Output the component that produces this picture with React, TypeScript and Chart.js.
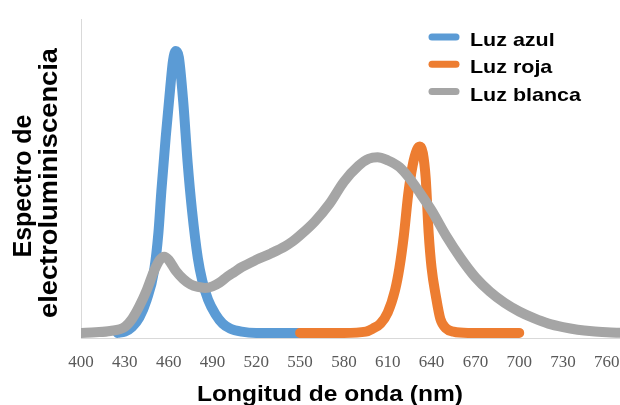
import React, { useEffect, useRef } from "react";
import { Chart, registerables } from "chart.js";

Chart.register(...registerables);

// ---- data ----
const xTickValues = [400, 430, 460, 490, 520, 550, 580, 610, 640, 670, 700, 730, 760];
const seriesLabels = ["Luz azul", "Luz roja", "Luz blanca"];
const seriesColors = ["#5B9BD5", "#ED7D31", "#A5A5A5"];

const blueNm = [425, 430, 435, 440, 445, 450, 453, 455, 458, 461, 463, 465, 467, 470, 473, 476, 480, 483, 487, 492, 497, 502, 510, 520, 535, 550];
const blueVal = [0.016, 0.02, 0.035, 0.065, 0.12, 0.21, 0.33, 0.46, 0.63, 0.78, 0.87, 0.9, 0.88, 0.74, 0.55, 0.4, 0.25, 0.18, 0.12, 0.075, 0.045, 0.03, 0.02, 0.016, 0.016, 0.016];

const redNm = [550, 580, 595, 600, 605, 610, 615, 618, 621, 624, 627, 630, 632, 634, 636, 638, 640, 643, 646, 650, 655, 665, 700];
const redVal = [0.016, 0.016, 0.02, 0.03, 0.045, 0.08, 0.15, 0.22, 0.32, 0.45, 0.54, 0.59, 0.6, 0.58, 0.5, 0.33, 0.22, 0.13, 0.06, 0.03, 0.02, 0.016, 0.016];

const whiteNm = [400, 410, 420, 430, 435, 440, 445, 450, 454, 457, 460, 465, 470, 475, 480, 485, 490, 495, 500, 505, 510, 520, 530, 540, 545, 550, 560, 570, 580, 590, 597, 603, 610, 618, 625, 632, 640, 650, 660, 670, 680, 690, 700, 710, 720, 730, 740, 750, 760, 770];
const whiteVal = [0.016, 0.018, 0.022, 0.035, 0.06, 0.1, 0.15, 0.21, 0.245, 0.255, 0.245, 0.21, 0.185, 0.168, 0.16, 0.157, 0.162, 0.174, 0.192, 0.207, 0.222, 0.245, 0.265, 0.288, 0.303, 0.322, 0.365, 0.42, 0.49, 0.54, 0.562, 0.567, 0.557, 0.536, 0.5, 0.455, 0.4, 0.32, 0.25, 0.19, 0.145, 0.11, 0.083, 0.062, 0.045, 0.034, 0.026, 0.021, 0.018, 0.016];

const xTitle = "Longitud de onda (nm)";
const yTitleLines = ["Espectro de", "electroluminiscencia"];

const SANS = '"Liberation Sans", Arial, Helvetica, sans-serif';

export default function App() {
  const ref = useRef<HTMLCanvasElement>(null);

  useEffect(() => {
    if (!ref.current) return;
    const toPts = (xs: number[], ys: number[]) => xs.map((x, i) => ({ x, y: ys[i] }));

    const textPlugin = {
      id: "texts",
      afterDraw(chart: any) {
        const ctx = chart.ctx as CanvasRenderingContext2D;
        ctx.save();
        ctx.fillStyle = "#000";
        ctx.textBaseline = "alphabetic";

        // x-axis title
        ctx.font = `bold 22px ${SANS}`;
        ctx.textAlign = "left";
        const w = ctx.measureText(xTitle).width;
        ctx.save();
        ctx.translate(197, 401);
        ctx.scale(266 / w, 1);
        ctx.fillText(xTitle, 0, 0);
        ctx.restore();

        // y-axis title (two rotated lines)
        ctx.font = `bold 26px ${SANS}`;
        ctx.textAlign = "center";
        const ybase = [31, 57];
        const ylen = [143, 270];
        const ymid = [186, 183];
        yTitleLines.forEach((t, i) => {
          const tw = ctx.measureText(t).width;
          ctx.save();
          ctx.translate(ybase[i], ymid[i]);
          ctx.rotate(-Math.PI / 2);
          ctx.scale(ylen[i] / tw, 1);
          ctx.fillText(t, 0, 0);
          ctx.restore();
        });

        // legend
        ctx.font = `bold 19px ${SANS}`;
        ctx.textAlign = "left";
        chart.data.datasets.forEach((ds: any, i: number) => {
          const base = 46 + i * 27.3;
          ctx.save();
          ctx.strokeStyle = ds.borderColor;
          ctx.lineWidth = 7;
          ctx.lineCap = "round";
          ctx.beginPath();
          ctx.moveTo(432, base - 9);
          ctx.lineTo(456, base - 9);
          ctx.stroke();
          ctx.restore();
          ctx.save();
          ctx.translate(470, base);
          ctx.scale(1.13, 1);
          ctx.fillText(ds.label, 0, 0);
          ctx.restore();
        });
        ctx.restore();
      },
    };

    const chart = new Chart(ref.current, {
      type: "line",
      data: {
        datasets: [
          { label: seriesLabels[0], data: toPts(blueNm, blueVal), borderColor: seriesColors[0], order: 2 },
          { label: seriesLabels[1], data: toPts(redNm, redVal), borderColor: seriesColors[1], order: 1 },
          { label: seriesLabels[2], data: toPts(whiteNm, whiteVal), borderColor: seriesColors[2], order: 0 },
        ],
      },
      options: {
        responsive: false,
        animation: false,
        layout: { padding: { top: 19, left: 0, right: 0, bottom: 0 } },
        plugins: { legend: { display: false }, tooltip: { enabled: false } },
        elements: {
          point: { radius: 0 },
          line: {
            borderWidth: 10,
            cubicInterpolationMode: "monotone",
            borderCapStyle: "round",
            borderJoinStyle: "round",
            fill: false,
          },
        },
        scales: {
          x: {
            type: "linear",
            min: 400,
            max: 769,
            afterFit: (s: any) => {
              s.height = 67;
              s.paddingLeft = 0;
              s.paddingRight = 0;
            },
            afterBuildTicks: (s: any) => {
              s.ticks = xTickValues.map((v) => ({ value: v }));
            },
            grid: { display: false, drawTicks: false },
            border: { display: true, color: "#d9d9d9", width: 1 },
            ticks: {
              font: { family: '"Liberation Serif", "Times New Roman", serif', size: 17 },
              color: "#595959",
              padding: 14,
              maxRotation: 0,
              autoSkip: false,
            },
          },
          y: {
            min: 0,
            max: 1,
            afterFit: (s: any) => {
              s.width = 81;
              s.paddingTop = 0;
              s.paddingBottom = 0;
            },
            ticks: { display: false },
            grid: { display: false, drawTicks: false },
            border: { display: true, color: "#d9d9d9", width: 1 },
          },
        },
      } as any,
      plugins: [textPlugin],
    });
    return () => chart.destroy();
  }, []);

  return (
    <div style={{ position: "fixed", left: 0, top: 0, width: 620, height: 405, background: "#fff" }}>
      <canvas ref={ref} width={620} height={405} style={{ display: "block" }} />
    </div>
  );
}
